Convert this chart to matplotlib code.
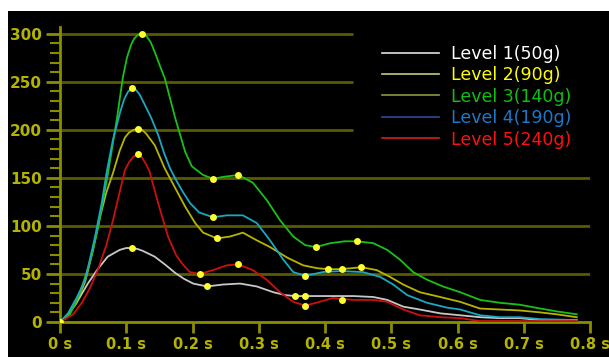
import matplotlib
matplotlib.use("Agg")
import matplotlib.pyplot as plt
from matplotlib.patches import Rectangle
from matplotlib.lines import Line2D

# values (time in s, force in g)
t_lvl1 = [0, .008, .025, .042, .057, .072, .09, .1, .109, .117, .125, .143, .16, .174, .187,
          .201, .222, .246, .272, .297, .322, .34, .355, .37, .397, .425, .443, .473, .494,
          .518, .543, .574, .604, .634, .664, .694, .725, .78]
v_lvl1 = [0, 4, 20, 40, 55, 68, 75, 77, 77, 76, 74, 68, 59, 51, 45,
          40, 37, 39, 40, 37, 31, 28, 27, 27, 27, 27, 27, 26, 23,
          16, 13, 9, 7, 5, 4, 4, 2, 2]

t_lvl2 = [0, .012, .025, .038, .05, .06, .07, .08, .09, .098, .104, .111, .118, .124, .13, .143,
          .158, .175, .189, .204, .216, .237, .257, .276, .297, .317, .343, .367, .388, .405,
          .425, .455, .478, .498, .518, .543, .574, .604, .634, .664, .694, .725, .75, .78]
v_lvl2 = [0, 7, 20, 42, 75, 108, 135, 155, 178, 192, 197, 200, 201, 200, 196, 184,
          160, 138, 120, 103, 93, 87, 89, 93, 85, 78, 67, 59, 56, 55,
          55, 57, 54, 47, 39, 31, 26, 21, 14, 13, 12, 10, 8, 5]

t_lvl3 = [0, .015, .03, .045, .058, .072, .086, .095, .101, .107, .112, .118, .124, .13, .137,
          .143, .15, .158, .174, .189, .199, .216, .231, .246, .269, .291, .312, .332, .352,
          .37, .386, .408, .43, .448, .473, .494, .513, .533, .554, .578, .604, .634, .664,
          .694, .725, .75, .78]
v_lvl3 = [0, 8, 30, 62, 100, 153, 212, 255, 275, 288, 295, 299, 300, 298, 291,
          281, 268, 254, 212, 177, 162, 153, 149, 151, 153, 145, 127, 106, 89,
          80, 78, 82, 84, 84, 82, 75, 65, 52, 44, 37, 31, 23, 20,
          18, 14, 11, 8]

t_lvl4 = [0, .012, .025, .038, .053, .063, .071, .08, .091, .097, .103, .109, .114, .12, .128,
          .138, .148, .157, .166, .175, .184, .196, .21, .231, .252, .276, .297, .317, .337,
          .352, .37, .397, .423, .457, .483, .503, .524, .554, .584, .604, .634, .664,
          .694, .725, .78]
v_lvl4 = [0, 9, 25, 44, 89, 124, 158, 190, 219, 232, 240, 243, 242, 237, 226,
          212, 195, 176, 160, 148, 137, 124, 114, 109, 111, 111, 103, 85, 65,
          52, 48, 52, 53, 52, 47, 39, 28, 20, 15, 13, 7, 5,
          5, 3, 2]

t_lvl5 = [0, .02, .033, .045, .057, .07, .08, .09, .098, .104, .111, .118, .124, .13, .135,
          .148, .163, .175, .184, .196, .211, .231, .252, .269, .291, .312, .332, .352, .37,
          .392, .412, .425, .443, .473, .494, .518, .543, .574, .604, .634, .7, .78]
v_lvl5 = [0, 8, 20, 35, 54, 80, 106, 135, 158, 166, 172, 175, 171, 164, 157,
          124, 89, 70, 61, 52, 50, 54, 59, 60, 54, 44, 31, 21, 17,
          21, 25, 24, 23, 23, 21, 13, 7, 5, 4, 1, 1, 1]

# highlighted points (yellow dots)
mk_t = [0, .109, .222, .355, .37,
        .118, .237, .405, .425, .455,
        .124, .231, .269, .386, .448,
        .109, .231, .37,
        .118, .211, .269, .37, .425]
mk_v = [0, 77, 37, 27, 27,
        201, 87, 55, 55, 57,
        300, 149, 153, 78, 84,
        243, 109, 48,
        175, 50, 60, 17, 23]

labels = ["Level 1(50g)", "Level 2(90g)", "Level 3(140g)", "Level 4(190g)", "Level 5(240g)"]
line_colors = ["#c8c8c8", "#b8b400", "#18c018", "#1aa8c0", "#cc1010"]
legend_line_colors = ["#e0e0e0", "#c8c878", "#8a9a40", "#304a9a", "#d02020"]
text_colors = ["#ffffff", "#ffff00", "#10c010", "#1e78c8", "#ff1010"]

yticks = [0, 50, 100, 150, 200, 250, 300]
xticks = [0, .1, .2, .3, .4, .5, .6, .7, .8]
xticklabels = ["0 s", "0.1 s", "0.2 s", "0.3 s", "0.4 s", "0.5 s", "0.6 s", "0.7 s", "0.8 s"]

AX_COL = "#8c8c00"
GRID_COL = "#5a5a00"
LBL_COL = "#b4b400"

fig = plt.figure(figsize=(6.09, 3.57), dpi=100, facecolor="white")
fig.patches.append(Rectangle((8 / 609, 0), 1, (357 - 11) / 357, transform=fig.transFigure,
                             facecolor="black", edgecolor="none", zorder=-10))
ax = fig.add_axes([60 / 609, 35 / 357, 530 / 609, 295 / 357])
ax.set_facecolor("none")
ax.set_xlim(0, 0.8)
ax.set_ylim(0, 307)

# grid: upper lines stop where the legend begins
for y in yticks[1:]:
    xe = 0.442 if y >= 200 else 0.8
    ax.plot([0, xe], [y, y], color=GRID_COL, lw=2, zorder=1, solid_capstyle="butt")

series = [(t_lvl1, v_lvl1), (t_lvl2, v_lvl2), (t_lvl3, v_lvl3), (t_lvl4, v_lvl4), (t_lvl5, v_lvl5)]
for (t, v), c in zip(series, line_colors):
    ax.plot(t, v, color=c, lw=1.3, zorder=3, solid_joinstyle="round")
ax.plot(mk_t, mk_v, "o", ms=5, color="#ffff30", mec="none", zorder=5)

for s in ["top", "right"]:
    ax.spines[s].set_visible(False)
for s in ["left", "bottom"]:
    ax.spines[s].set_color(AX_COL)
    ax.spines[s].set_linewidth(2)

ax.set_yticks(yticks)
ax.set_yticks(range(0, 301, 10), minor=True)
ax.set_xticks(xticks)
ax.set_xticklabels(xticklabels)
ax.tick_params(axis="y", which="major", length=10, width=2, color=AX_COL, labelcolor=LBL_COL,
               labelsize=11, pad=3)
ax.tick_params(axis="y", which="minor", length=7, width=1.5, color=AX_COL)
ax.tick_params(axis="x", which="major", length=8, width=2, color=AX_COL, labelcolor=LBL_COL,
               labelsize=10.5, pad=3)
for lab in ax.get_xticklabels() + ax.get_yticklabels():
    lab.set_fontweight("bold")

handles = [Line2D([], [], color=c, lw=1.2) for c in legend_line_colors]
leg = ax.legend(handles, labels, loc="upper left", bbox_to_anchor=(366 / 609, 1 - 29 / 357),
                bbox_transform=fig.transFigure, frameon=False, fontsize=12.5,
                handlelength=3.3, handletextpad=0.7, labelspacing=0.2,
                labelcolor=text_colors)

fig.savefig("out.png", dpi=100, facecolor="white")
